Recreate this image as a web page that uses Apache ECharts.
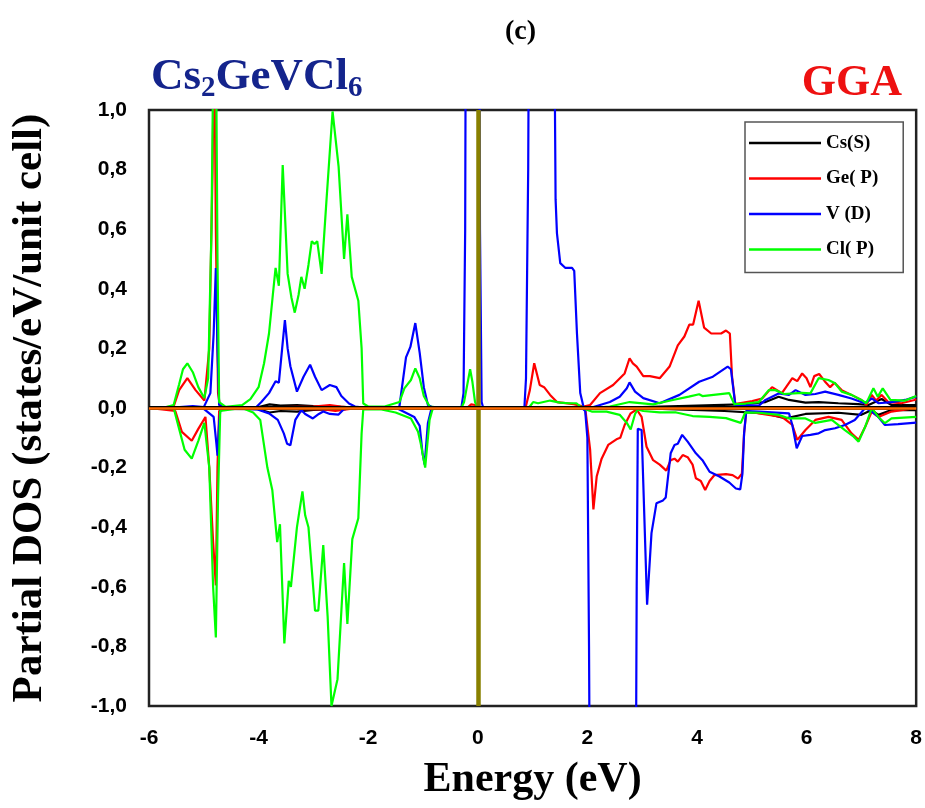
<!DOCTYPE html>
<html>
<head>
<meta charset="utf-8">
<script src="https://cdn.jsdelivr.net/npm/echarts@6/dist/echarts.min.js"></script>
<style>
  html, body { margin: 0; padding: 0; background: #fff; }
  #chart { width: 925px; height: 808px; }
</style>
</head>
<body>
<div id="chart"></div>
<script>
// energy (eV) vs partial DOS, spin up (positive) and spin down (negative)
const csUp = [[-6,0],[-5.5,0.002],[-4.0,0.003],[-3.8,0.012],[-3.6,0.008],[-3.3,0.01],[-3.0,0.006],[-2.5,0.004],[-2.0,0],[2.5,0],[3.0,0.003],[4.0,0.008],[4.8,0.012],[5.25,0.02],[5.49,0.038],[5.68,0.027],[5.98,0.018],[6.22,0.02],[6.58,0.016],[6.94,0.013],[7.13,0.01],[7.37,0.03],[7.55,0.01],[8,0.01]]
const csDown = [[-6,0],[-5.5,-0.002],[-4.0,-0.004],[-3.8,-0.015],[-3.6,-0.01],[-3.3,-0.012],[-3.0,-0.006],[-2.5,-0.004],[-2.0,0],[2.8,0],[3.5,-0.004],[4.5,-0.01],[5.25,-0.018],[5.62,-0.035],[5.98,-0.02],[6.58,-0.016],[7.0,-0.023],[7.19,-0.007],[7.31,-0.023],[7.55,-0.007],[8,-0.007]]

const geUp = [[-6,0],[-5.55,0.005],[-5.45,0.06],[-5.30,0.10],[-5.15,0.06],[-4.99,0.025],[-4.9,0.2],[-4.84,0.8],[-4.81,1.3],[-4.78,0.6],[-4.74,0.05],[-4.7,0],[-3,0.005],[-2.7,0.01],[-2.5,0.005],[-2.2,0],[-0.2,0],[-0.12,0.012],[-0.05,0.01],[0,0],[0.87,0],[0.95,0.06],[1.03,0.15],[1.13,0.077],[1.21,0.07],[1.32,0.044],[1.445,0.02],[1.75,0.013],[1.93,0.005],[2.05,0.01],[2.23,0.05],[2.47,0.077],[2.68,0.116],[2.77,0.167],[2.83,0.15],[2.90,0.139],[3.02,0.107],[3.14,0.107],[3.32,0.10],[3.50,0.139],[3.65,0.21],[3.77,0.24],[3.86,0.28],[3.93,0.28],[4.03,0.36],[4.13,0.27],[4.26,0.25],[4.44,0.25],[4.53,0.26],[4.60,0.25],[4.64,0.105],[4.70,0.013],[4.77,0.016],[5.01,0.023],[5.19,0.032],[5.37,0.07],[5.55,0.05],[5.74,0.10],[5.83,0.09],[5.92,0.116],[6.0,0.10],[6.07,0.07],[6.14,0.107],[6.23,0.114],[6.33,0.09],[6.43,0.07],[6.51,0.085],[6.64,0.06],[6.82,0.044],[7.0,0.027],[7.09,0.01],[7.19,0.044],[7.27,0.025],[7.37,0.044],[7.49,0.02],[7.73,0.016],[7.97,0.027],[8,0.03]]
const geDown = [[-6,0],[-5.52,-0.01],[-5.4,-0.08],[-5.22,-0.11],[-5.1,-0.07],[-4.97,-0.03],[-4.9,-0.2],[-4.83,-0.45],[-4.78,-0.595],[-4.75,-0.2],[-4.72,-0.01],[-4.6,0],[-2.8,-0.005],[-2.6,-0.01],[-2.4,-0.005],[-2.2,0],[1.96,0],[2.05,-0.14],[2.11,-0.34],[2.17,-0.23],[2.26,-0.17],[2.38,-0.124],[2.53,-0.105],[2.60,-0.1],[2.68,-0.057],[2.79,-0.018],[2.90,-0.005],[2.99,-0.03],[3.08,-0.13],[3.20,-0.175],[3.32,-0.19],[3.44,-0.21],[3.52,-0.175],[3.59,-0.17],[3.65,-0.18],[3.74,-0.158],[3.83,-0.165],[3.92,-0.19],[3.98,-0.236],[4.07,-0.245],[4.15,-0.275],[4.23,-0.245],[4.32,-0.225],[4.53,-0.222],[4.65,-0.225],[4.75,-0.237],[4.82,-0.22],[4.86,-0.085],[4.90,-0.01],[5.13,-0.018],[5.55,-0.03],[5.74,-0.057],[5.83,-0.107],[5.98,-0.074],[6.16,-0.04],[6.40,-0.03],[6.64,-0.04],[6.82,-0.085],[6.95,-0.107],[7.07,-0.063],[7.19,-0.012],[7.31,-0.03],[7.55,-0.012],[8,0]]

const vUp = [[-6,0],[-5.5,0.002],[-5.2,0.006],[-5.0,0.003],[-4.88,0.05],[-4.82,0.25],[-4.78,0.47],[-4.75,0.2],[-4.72,0.01],[-4.6,0],[-4.06,0],[-3.95,0.02],[-3.81,0.05],[-3.69,0.09],[-3.63,0.085],[-3.57,0.2],[-3.52,0.295],[-3.47,0.2],[-3.42,0.14],[-3.30,0.055],[-3.18,0.105],[-3.06,0.145],[-2.97,0.105],[-2.85,0.06],[-2.70,0.077],[-2.58,0.07],[-2.49,0.04],[-2.35,0.015],[-2.24,0.005],[-2,0],[-1.5,0],[-1.43,0.005],[-1.31,0.17],[-1.23,0.205],[-1.14,0.285],[-1.06,0.185],[-0.985,0.07],[-0.91,0.01],[-0.8,0],[-0.3,0],[-0.26,0.05],[-0.23,0.6],[-0.21,2],[0.02,2],[0.04,0.6],[0.07,0.02],[0.1,0],[0.85,0],[0.88,0.1],[0.92,0.8],[0.95,2],[1.37,2],[1.42,0.7],[1.445,0.586],[1.505,0.486],[1.60,0.47],[1.72,0.47],[1.76,0.46],[1.81,0.25],[1.87,0.05],[1.93,0.003],[2.05,0],[2.41,0.02],[2.59,0.038],[2.72,0.066],[2.77,0.086],[2.87,0.055],[3.02,0.033],[3.32,0.016],[3.68,0.044],[4.04,0.088],[4.29,0.105],[4.56,0.139],[4.62,0.13],[4.70,0.01],[5.13,0.008],[5.25,0.027],[5.49,0.049],[5.68,0.044],[5.80,0.06],[5.98,0.044],[6.16,0.047],[6.34,0.055],[6.58,0.044],[6.82,0.032],[7.06,0.016],[7.19,0.032],[7.31,0.016],[7.55,0.02],[7.80,0.027],[8,0.038]]
const vDown = [[-6,0],[-5.5,0],[-5.0,-0.003],[-4.82,-0.03],[-4.77,-0.12],[-4.75,-0.16],[-4.72,-0.05],[-4.70,-0.01],[-4.6,0],[-4.02,-0.005],[-3.81,-0.018],[-3.65,-0.04],[-3.54,-0.085],[-3.48,-0.12],[-3.42,-0.125],[-3.33,-0.04],[-3.22,-0.007],[-3.15,-0.02],[-3.01,-0.035],[-2.9,-0.02],[-2.82,-0.012],[-2.70,-0.02],[-2.54,-0.022],[-2.45,-0.005],[-2.3,0],[-1.5,0],[-1.43,-0.005],[-1.16,-0.03],[-1.06,-0.06],[-1.01,-0.15],[-0.97,-0.19],[-0.91,-0.05],[-0.85,-0.005],[-0.7,0],[1.9,0],[1.96,-0.01],[2.0,-0.1],[2.03,-0.8],[2.05,-1.5],[2.88,-1.5],[2.9,-0.6],[2.92,-0.07],[2.99,-0.074],[3.09,-0.66],[3.17,-0.42],[3.26,-0.32],[3.38,-0.31],[3.43,-0.30],[3.52,-0.152],[3.59,-0.124],[3.65,-0.12],[3.73,-0.09],[3.83,-0.113],[3.98,-0.152],[4.10,-0.175],[4.23,-0.214],[4.41,-0.23],[4.59,-0.25],[4.71,-0.27],[4.79,-0.273],[4.83,-0.22],[4.86,-0.085],[4.90,-0.01],[5.13,-0.012],[5.68,-0.018],[5.74,-0.057],[5.82,-0.135],[5.92,-0.094],[6.07,-0.09],[6.22,-0.085],[6.34,-0.074],[6.52,-0.068],[6.70,-0.057],[6.88,-0.04],[7.07,0],[7.19,-0.012],[7.31,-0.03],[7.43,-0.057],[7.67,-0.054],[8,-0.049]]

const clUp = [[-6,0],[-5.7,0.002],[-5.55,0.01],[-5.45,0.08],[-5.38,0.13],[-5.30,0.15],[-5.2,0.12],[-5.1,0.07],[-4.99,0.033],[-4.92,0.1],[-4.86,0.6],[-4.82,1.3],[-4.78,1.3],[-4.75,0.5],[-4.72,0.02],[-4.6,0.004],[-4.3,0.01],[-4.15,0.03],[-4.0,0.07],[-3.9,0.15],[-3.81,0.25],[-3.74,0.38],[-3.69,0.47],[-3.63,0.41],[-3.56,0.815],[-3.47,0.45],[-3.4,0.37],[-3.34,0.32],[-3.27,0.38],[-3.22,0.44],[-3.16,0.40],[-3.09,0.48],[-3.03,0.56],[-2.98,0.55],[-2.93,0.56],[-2.85,0.45],[-2.76,0.70],[-2.65,0.995],[-2.54,0.81],[-2.44,0.50],[-2.38,0.65],[-2.33,0.52],[-2.30,0.44],[-2.18,0.36],[-2.12,0.2],[-2.09,0.015],[-2.0,0.005],[-1.7,0.005],[-1.43,0.02],[-1.34,0.066],[-1.22,0.094],[-1.14,0.133],[-1.06,0.10],[-0.985,0.04],[-0.88,0.005],[-0.6,0],[-0.3,0],[-0.25,0.02],[-0.2,0.07],[-0.14,0.13],[-0.1,0.09],[-0.05,0.02],[0,0],[0.9,0],[0.95,0.005],[1.01,0.02],[1.1,0.016],[1.32,0.025],[1.5,0.018],[1.66,0.016],[1.8,0.016],[1.87,0.005],[2.05,0],[2.41,0.005],[2.77,0.02],[3.2,0.012],[3.56,0.027],[3.85,0.038],[4.04,0.046],[4.1,0.04],[4.59,0.05],[4.68,0.013],[4.89,0.015],[5.13,0.02],[5.31,0.06],[5.43,0.06],[5.59,0.047],[5.77,0.049],[5.92,0.051],[6.07,0.049],[6.22,0.10],[6.40,0.094],[6.52,0.083],[6.64,0.055],[6.82,0.044],[7.0,0.027],[7.09,0.016],[7.22,0.066],[7.30,0.038],[7.39,0.066],[7.53,0.027],[7.8,0.025],[8,0.04]]
const clDown = [[-6,0],[-5.55,0],[-5.45,-0.07],[-5.35,-0.14],[-5.22,-0.17],[-5.1,-0.11],[-4.99,-0.05],[-4.9,-0.2],[-4.83,-0.6],[-4.78,-0.77],[-4.74,-0.3],[-4.70,-0.01],[-4.3,0],[-4.1,-0.015],[-3.97,-0.04],[-3.84,-0.20],[-3.75,-0.275],[-3.66,-0.45],[-3.61,-0.39],[-3.53,-0.79],[-3.45,-0.58],[-3.41,-0.60],[-3.30,-0.40],[-3.20,-0.28],[-3.15,-0.36],[-3.09,-0.40],[-2.97,-0.68],[-2.91,-0.68],[-2.82,-0.46],[-2.74,-0.70],[-2.67,-1.0],[-2.56,-0.91],[-2.44,-0.52],[-2.38,-0.725],[-2.29,-0.44],[-2.18,-0.37],[-2.12,-0.085],[-2.09,-0.005],[-1.76,-0.005],[-1.5,-0.015],[-1.22,-0.035],[-1.09,-0.08],[-1.04,-0.12],[-0.96,-0.20],[-0.88,-0.04],[-0.82,0],[1.9,0],[2.08,-0.012],[2.35,-0.012],[2.59,-0.023],[2.72,-0.05],[2.79,-0.072],[2.87,-0.02],[2.92,-0.005],[3.02,-0.01],[3.32,-0.015],[3.62,-0.015],[3.92,-0.027],[4.23,-0.03],[4.53,-0.034],[4.80,-0.05],[4.88,-0.015],[5.13,-0.016],[5.49,-0.023],[5.68,-0.035],[5.98,-0.035],[6.16,-0.05],[6.46,-0.04],[6.70,-0.074],[6.86,-0.096],[6.95,-0.113],[7.07,-0.063],[7.19,0],[7.31,-0.03],[7.43,-0.051],[7.55,-0.035],[8,-0.03]]

const names = ['Cs(S)', 'Ge( P)', 'V (D)', 'Cl( P)']
const colors = ['#000000', '#ff0000', '#0000ff', '#00ff00']
const upData = [csUp, geUp, vUp, clUp]
const downData = [csDown, geDown, vDown, clDown]

const serif = 'Liberation Serif, Times New Roman, serif'
const sans = 'Liberation Sans, Arial, sans-serif'

const myChart = echarts.init(document.getElementById('chart'))

const lineSeries = (name, data, color) => ({
  name: name,
  type: 'line',
  data: data,
  symbol: 'none',
  clip: true,
  lineStyle: { color: color, width: 2.2 },
  itemStyle: { color: color },
})

const series = []
names.forEach((n, i) => {
  series.push(lineSeries(n, upData[i], colors[i]))
  series.push(lineSeries(n, downData[i], colors[i]))
})
// fermi level and zero line
series.push({
  name: 'ref',
  type: 'line',
  data: [],
  z: 5,
  markLine: {
    silent: true,
    symbol: ['none', 'none'],
    label: { show: false },
    animation: false,
    data: [
      { xAxis: 0, lineStyle: { color: '#888000', width: 4.5, type: 'solid' } },
      { yAxis: 0, lineStyle: { color: '#000', width: 4, type: 'solid' } },
      { yAxis: 0, lineStyle: { color: '#ff6a00', width: 2.5, type: 'solid' } },
    ],
  },
})

myChart.setOption({
  animation: false,
  title: [
    {
      text: '(c)',
      left: 500, top: 12,
      textStyle: { fontFamily: serif, fontWeight: 'bold', fontSize: 28, color: '#000', lineHeight: 30 },
    },
    {
      text: '{m|Cs}{s|2}{m|GeVCl}{s|6}',
      left: 146, top: 46,
      textStyle: {
        rich: {
          m: { fontFamily: serif, fontWeight: 'bold', fontSize: 45, color: '#14248c', lineHeight: 52 },
          s: { fontFamily: serif, fontWeight: 'bold', fontSize: 29, color: '#14248c', lineHeight: 28, verticalAlign: 'bottom' },
        },
      },
    },
    {
      text: 'GGA',
      right: 18, top: 57,
      textStyle: { fontFamily: serif, fontWeight: 'bold', fontSize: 44, color: '#ee1111', lineHeight: 44 },
    },
  ],
  legend: {
    data: names.map((n) => ({ name: n, icon: 'rect' })),
    orient: 'vertical',
    left: 745,
    top: 122,
    padding: [11, 25, 13, 4],
    itemWidth: 72,
    itemHeight: 2.5,
    itemGap: 15.5,
    borderColor: '#555',
    borderWidth: 1.5,
    backgroundColor: '#fff',
    textStyle: { fontFamily: serif, fontWeight: 'bold', fontSize: 19, lineHeight: 20, color: '#000' },
  },
  grid: {
    left: 146, right: 7, top: 110, bottom: 102,
    show: true,
    borderColor: '#222',
    borderWidth: 2.5,
    containLabel: false,
  },
  xAxis: {
    type: 'value',
    min: -6, max: 8, interval: 2,
    name: 'Energy (eV)',
    nameLocation: 'middle',
    nameGap: 53,
    nameTextStyle: { fontFamily: serif, fontWeight: 'bold', fontSize: 42, color: '#000' },
    axisLine: { show: false },
    axisTick: { show: false },
    splitLine: { show: false },
    axisLabel: { margin: 22, fontFamily: sans, fontWeight: 'bold', fontSize: 21, color: '#000' },
  },
  yAxis: {
    type: 'value',
    min: -1, max: 1, interval: 0.2,
    name: 'Partial DOS (states/eV/unit cell)',
    nameLocation: 'middle',
    nameGap: 98,
    nameTextStyle: { fontFamily: serif, fontWeight: 'bold', fontSize: 43, color: '#000' },
    axisLine: { show: false },
    axisTick: { show: false },
    splitLine: { show: false },
    axisLabel: {
      margin: 22, fontFamily: sans, fontWeight: 'bold', fontSize: 21, color: '#000',
      formatter: (v) => v.toFixed(1).replace('.', ','),
    },
  },
  series: series,
})
</script>
</body>
</html>
